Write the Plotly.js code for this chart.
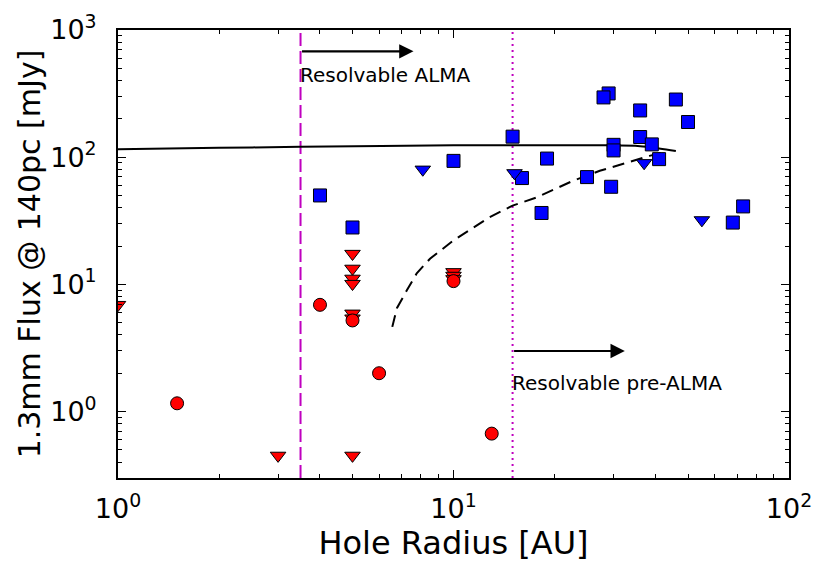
<!DOCTYPE html>
<html>
<head>
<meta charset="utf-8">
<script src="https://cdn.plot.ly/plotly-3.0.1.min.js"></script>
<style>html,body{margin:0;padding:0;background:#fff;}#chart{width:831px;height:574px;}</style>
</head>
<body>
<div id="chart"></div>
<script>
// ---- data ----
const redDetX = [1.5, 4, 5, 6, 10, 13];
const redDetY = [1.16, 6.9, 5.2, 2.0, 10.6, 0.67];

const redLimX = [1.0, 3.0, 5, 5, 5, 5, 5, 5, 5, 10, 10, 10];
const redLimY = [6.9, 0.45, 17.4, 13.3, 11.1, 10.1, 5.9, 5.4, 0.45, 12.5, 11.7, 11.0];

const blueDetX = [4, 5, 10, 15, 16, 19, 18.3, 25, 29.5, 29, 28, 30, 30, 36, 36, 39, 41, 46, 50, 68, 73];
const blueDetY = [50, 28, 93.5, 145, 68.5, 97.5, 36.4, 69.7, 58.5, 317, 295, 125, 113, 233, 144, 126, 96.5, 284, 189, 30.6, 41];

const blueLimX = [8.1, 15.2, 37, 55];
const blueLimY = [80, 75, 90, 32];

const solidX = [1, 2, 3.5, 10, 20, 28, 36, 41, 46];
const solidY = [115.6, 118.5, 120.5, 124, 124, 124, 122, 117, 112];

const dashX = [6.57, 6.78, 7.26, 7.77, 8.51, 9.99, 12.8, 15.0, 17.7, 22.7, 27.3, 38.4, 43.1];
const dashY = [4.63, 6.49, 8.97, 12.2, 15.9, 22.1, 33.7, 41.6, 48.3, 65.2, 78.1, 102.4, 110.6];

const almaLimit = 3.5;
const preAlmaLimit = 15;
const xRange = [1, 100];
const yRange = [0.3, 1000];

const xTickVals = [1, 10, 100];
const xTickText = ['10<sup>0</sup>', '10<sup>1</sup>', '10<sup>2</sup>'];
const yTickVals = [1, 10, 100, 1000];
const yTickText = ['10<sup>0</sup>', '10<sup>1</sup>', '10<sup>2</sup>', '10<sup>3</sup>'];

// ---- traces ----
const FONT = 'DejaVu Sans, sans-serif';
const mk = (color, symbol, size) => ({color: color, symbol: symbol, size: size, line: {color: 'black', width: 1}});
const lg = v => Math.log10(v);

const traces = [
  {x: [almaLimit, almaLimit], y: yRange, mode: 'lines', line: {color: '#bf00bf', width: 2, dash: '13px,5px'}, hoverinfo: 'skip'},
  {x: [preAlmaLimit, preAlmaLimit], y: yRange, mode: 'lines', line: {color: '#bf00bf', width: 2, dash: '2px,4px'}, hoverinfo: 'skip'},
  {x: solidX, y: solidY, mode: 'lines', line: {color: 'black', width: 2, shape: 'spline'}},
  {x: dashX, y: dashY, mode: 'lines', line: {color: 'black', width: 2, dash: '12px,7px'}},
  {x: blueDetX, y: blueDetY, mode: 'markers', marker: mk('#0000ff', 'square', 13)},
  {x: blueLimX, y: blueLimY, mode: 'markers', marker: mk('#0000ff', 'triangle-down', 13.5)},
  {x: redLimX, y: redLimY, mode: 'markers', marker: mk('#ff0000', 'triangle-down', 13.5)},
  {x: redDetX, y: redDetY, mode: 'markers', marker: mk('#ff0000', 'circle', 13)}
];

const axisCommon = {
  type: 'log',
  showgrid: false,
  zeroline: false,
  showline: true,
  linecolor: 'black',
  linewidth: 2,
  mirror: 'allticks',
  ticks: 'inside',
  ticklen: 8,
  tickwidth: 1,
  tickcolor: 'black',
  tickmode: 'array',
  tickfont: {family: FONT, size: 27, color: 'black'},
  minor: {ticks: 'inside', ticklen: 4, tickwidth: 1, tickcolor: 'black', dtick: 'D1', showgrid: false}
};

const layout = {
  width: 831, height: 574,
  margin: {l: 118, r: 42, t: 30, b: 96},
  paper_bgcolor: 'white', plot_bgcolor: 'white',
  showlegend: false,
  font: {family: FONT, color: 'black'},
  xaxis: Object.assign({}, axisCommon, {
    range: [lg(xRange[0]), lg(xRange[1])],
    tickvals: xTickVals, ticktext: xTickText,
    ticklabelstandoff: 6,
    title: {text: 'Hole Radius [AU]', font: {family: FONT, size: 32, color: 'black'}, standoff: 6}
  }),
  yaxis: Object.assign({}, axisCommon, {
    range: [lg(yRange[0]), lg(yRange[1])],
    tickvals: yTickVals, ticktext: yTickText,
    ticklabelstandoff: 14,
    title: {text: '1.3mm Flux @ 140pc [mJy]', font: {family: FONT, size: 30, color: 'black'}, standoff: 1}
  }),
  annotations: [
    {x: lg(7.6), y: lg(680), ax: lg(almaLimit), ay: lg(680), xref: 'x', yref: 'y', axref: 'x', ayref: 'y',
     text: '', showarrow: true, arrowhead: 2, arrowsize: 1.3, arrowwidth: 2.2, arrowcolor: 'black'},
    {x: lg(almaLimit), y: lg(440), xref: 'x', yref: 'y', text: 'Resolvable ALMA', showarrow: false,
     xanchor: 'left', yanchor: 'middle', xshift: -3, font: {family: FONT, size: 20, color: 'black'}},
    {x: lg(32.4), y: lg(2.99), ax: lg(preAlmaLimit), ay: lg(2.99), xref: 'x', yref: 'y', axref: 'x', ayref: 'y',
     text: '', showarrow: true, arrowhead: 2, arrowsize: 1.3, arrowwidth: 2.2, arrowcolor: 'black'},
    {x: lg(preAlmaLimit), y: lg(1.69), xref: 'x', yref: 'y', text: 'Resolvable pre-ALMA', showarrow: false,
     xanchor: 'left', yanchor: 'middle', xshift: -3, font: {family: FONT, size: 20, color: 'black'}}
  ]
};

Plotly.newPlot('chart', traces, layout, {displayModeBar: false, staticPlot: true});
</script>
</body>
</html>
